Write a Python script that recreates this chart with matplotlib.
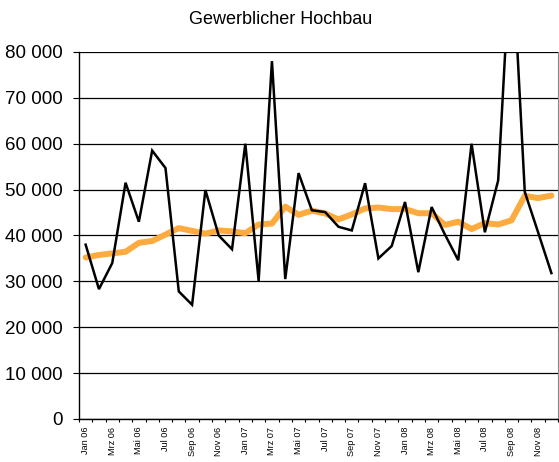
import matplotlib
matplotlib.use("Agg")
import matplotlib.pyplot as plt
from matplotlib.ticker import FuncFormatter, FixedLocator

plt.rcParams['font.family'] = ['Liberation Sans', 'DejaVu Sans']

# months Jan 06 .. Dez 08
month_names = ["Jan", "Feb", "Mrz", "Apr", "Mai", "Jun",
               "Jul", "Aug", "Sep", "Okt", "Nov", "Dez"]
years = ["06", "07", "08"]
months = [m + " " + y for y in years for m in month_names]

# monthly values (black line)
monthly = [38000, 28300, 34000, 51500, 43000, 58500, 54700, 27800, 24900, 49900, 40000, 37000,
           60000, 30100, 78000, 30500, 53600, 45500, 45100, 41900, 41100, 51400, 35000, 37700,
           47300, 32000, 46200, 40200, 34600, 60000, 40700, 52000, 105000, 49500, 40700, 31800]

# trend (orange line)
trend = [35200, 35750, 36100, 36450, 38400, 38800, 40200, 41600, 41000, 40400, 41100, 40900,
         40500, 42400, 42600, 46300, 44500, 45400, 44800, 43500, 44600, 45900, 46100, 45750,
         45750, 44850, 44850, 42300, 43000, 41400, 42700, 42400, 43300, 48650, 48150, 48700]

y_ticks = [0, 10000, 20000, 30000, 40000, 50000, 60000, 70000, 80000]

fig = plt.figure(figsize=(5.59, 4.62), dpi=100)
ax = fig.add_axes([0.1413, 0.0931, 0.857, 0.7944])

x = list(range(len(months)))

# orange trend below, black monthly line on top
ax.plot(x, trend, color='#FDAA3E', linewidth=4.3, solid_capstyle='round',
        solid_joinstyle='round', zorder=3)
ax.plot(x, monthly, color='black', linewidth=1.8, solid_joinstyle='miter', zorder=4)

ax.set_xlim(-0.5, len(months) - 0.5)
ax.set_ylim(0, 80000)

# y axis with space as thousands separator
ax.set_yticks(y_ticks)
ax.yaxis.set_major_formatter(FuncFormatter(lambda v, p: f"{int(v):,}".replace(",", " ")))
ax.tick_params(axis='y', labelsize=13.5, length=4.5, width=0.8, pad=7, colors='black')

# category axis: labels every 2nd month, ticks on category borders
ax.set_xticks(x[::2])
ax.set_xticklabels(months[::2], rotation=90, fontsize=6.6)
ax.xaxis.set_minor_locator(FixedLocator([i - 0.5 for i in range(len(months) + 1)]))
ax.tick_params(axis='x', which='major', length=0, pad=5.5)
ax.tick_params(axis='x', which='minor', length=2.5, width=0.8)

ax.grid(True, axis='y', color='black', linewidth=0.9, zorder=1)
ax.set_axisbelow(True)

for side in ['left', 'bottom']:
    ax.spines[side].set_color('black')
    ax.spines[side].set_linewidth(1.0)
ax.spines['top'].set_visible(False)
ax.spines['right'].set_color('#888888')
ax.spines['right'].set_linewidth(0.8)

fig.text(0.502, 0.957, "Gewerblicher Hochbau", ha='center', va='center', fontsize=13)

plt.savefig("out.png", dpi=100)
